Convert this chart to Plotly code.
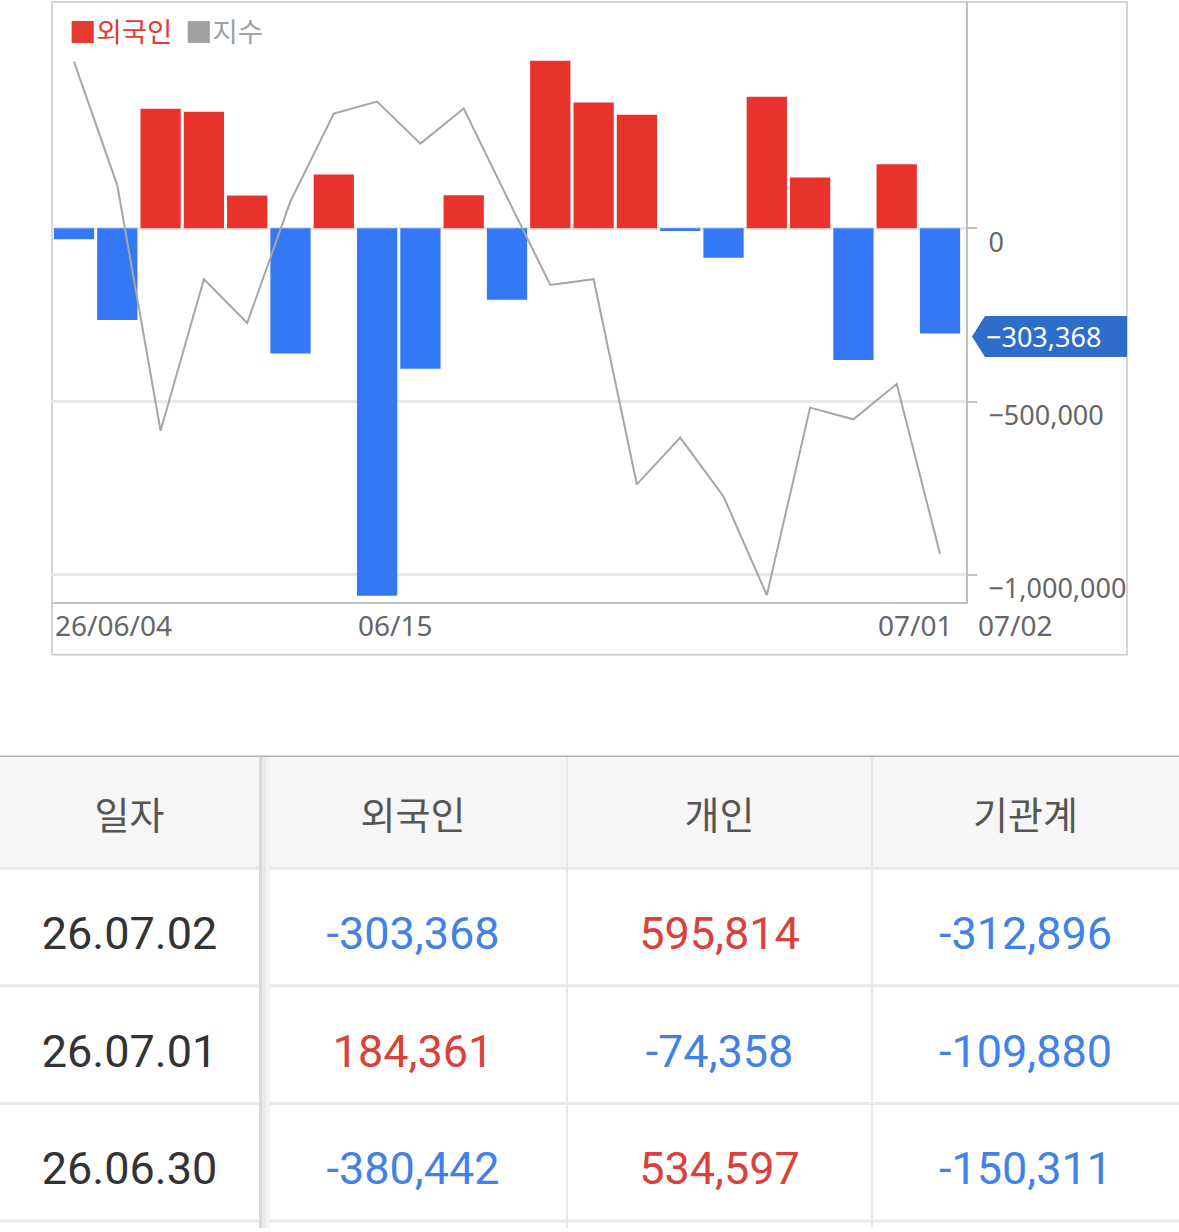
import plotly.graph_objects as go

W, H = 1179, 1232

# daily foreign net buying (bars) and the index (line)
dates = ['06/04', '06/05', '06/08', '06/09', '06/10', '06/11', '06/12', '06/15',
         '06/16', '06/17', '06/18', '06/19', '06/22', '06/23', '06/24', '06/25',
         '06/26', '06/29', '06/30', '07/01', '07/02']
foreign = [-31574, -264630, 345120, 336480, 94870, -361520, 155310, -1060420,
           -405480, 94910, -206170, 483240, 363190, 327880, -7810, -85430,
           379560, 146720, -380442, 184361, -303368]
index_vals = [2880.1, 2838.9, 2757.1, 2807.6, 2793.0, 2833.6, 2862.8, 2866.8,
              2852.8, 2864.5, 2834.9, 2805.7, 2807.6, 2739.2, 2754.8, 2735.2,
              2702.3, 2764.8, 2760.9, 2772.7, 2716.0]

y_ticks = [0, -500000, -1000000]
x_label_dates = ['06/04', '06/15', '07/01']
x_label_texts = ['26/06/04', '06/15', '07/01']
last_label = '07/02'

# table below the chart
table_header = ['일자', '외국인', '개인', '기관계']
table_dates = ['26.07.02', '26.07.01', '26.06.30']
table_foreign = [-303368, 184361, -380442]
table_individual = [595814, -74358, 534597]
table_institution = [-312896, -109880, -150311]

RED = '#e8332c'
BLUE = '#3578f6'
TXT_RED = '#d9413a'
TXT_BLUE = '#4281e8'
CHART_FONT = 'Noto Sans, Noto Sans CJK KR, sans-serif'
TABLE_FONT = 'Roboto, Noto Sans CJK KR, sans-serif'

# table geometry (pixels)
col_widths = [259, 308, 305, 307]
header_h = 113
row_h = 118
table_top = 758
table_h = H - table_top
header_dy = 8
cell_dy = 11


def px(x):
    return x / W


def py(y):
    return 1 - y / H


def num_color(v):
    return TXT_RED if v > 0 else TXT_BLUE


fig = go.Figure()

fig.add_trace(go.Bar(
    x=dates, y=foreign,
    marker=dict(color=[RED if v > 0 else BLUE for v in foreign], line=dict(width=0)),
    showlegend=False, hoverinfo='skip'
))
fig.add_trace(go.Scatter(
    x=dates, y=index_vals, yaxis='y2', mode='lines',
    line=dict(color='#a6a6a6', width=2),
    showlegend=False, hoverinfo='skip'
))

# table drawn on its own pixel-scaled subplot
col_edges = [0]
for w in col_widths:
    col_edges.append(col_edges[-1] + w)
col_centers = [(col_edges[i] + col_edges[i + 1]) / 2 for i in range(len(col_widths))]

fig.add_trace(go.Scatter(
    x=col_centers, y=[header_h / 2 + header_dy] * len(table_header), text=table_header,
    mode='text', textposition='middle center', xaxis='x3', yaxis='y3',
    textfont=dict(family=TABLE_FONT, size=38, color='#555555'),
    showlegend=False, hoverinfo='skip'
))

columns = [table_dates,
           [f'{v:,}' for v in table_foreign],
           [f'{v:,}' for v in table_individual],
           [f'{v:,}' for v in table_institution]]
colors = [['#333333'] * len(table_dates),
          [num_color(v) for v in table_foreign],
          [num_color(v) for v in table_individual],
          [num_color(v) for v in table_institution]]
cx, cy, ct, cc = [], [], [], []
for j, col in enumerate(columns):
    for i, val in enumerate(col):
        cx.append(col_centers[j])
        cy.append(header_h + row_h * (i + 0.5) + cell_dy)
        ct.append(val)
        cc.append(colors[j][i])
fig.add_trace(go.Scatter(
    x=cx, y=cy, text=ct, mode='text', textposition='middle center',
    xaxis='x3', yaxis='y3',
    textfont=dict(family=TABLE_FONT, size=45, color=cc),
    showlegend=False, hoverinfo='skip'
))

annotations = [
    dict(text='■외국인', x=px(67), y=py(32), xref='paper', yref='paper',
         xanchor='left', yanchor='middle', showarrow=False,
         font=dict(family=CHART_FONT, size=27.5, color='#e53a30')),
    dict(text='■지수', x=px(183), y=py(32), xref='paper', yref='paper',
         xanchor='left', yanchor='middle', showarrow=False,
         font=dict(family=CHART_FONT, size=27.5, color='#a0a0a0')),
]
for d, t in zip(x_label_dates, x_label_texts):
    annotations.append(dict(
        text=t, x=d, xref='x', xshift=-21, y=py(627), yref='paper',
        xanchor='left', yanchor='middle', showarrow=False,
        font=dict(family=CHART_FONT, size=28, color='#666666')))
annotations.append(dict(
    text=last_label, x=px(976), xref='paper', y=py(627), yref='paper',
    xanchor='left', yanchor='middle', showarrow=False,
    font=dict(family=CHART_FONT, size=28, color='#666666')))

# tag showing the latest value
last_val = foreign[-1]
annotations.append(dict(
    text=f'{last_val:,}'.replace('-', '−'), x=px(1043), xref='paper',
    y=last_val, yref='y', yshift=-3, xanchor='center', yanchor='middle',
    showarrow=False, font=dict(family=CHART_FONT, size=27, color='white')))

shapes = [
    dict(type='rect', xref='paper', yref='paper', x0=px(52), x1=px(1127),
         y0=py(657), y1=py(2), line=dict(color='#c8c8c8', width=1.5), layer='below'),
    dict(type='path', xref='paper', yref='y', xsizemode='pixel', ysizemode='pixel',
         xanchor=px(972), yanchor=last_val,
         path='M0,-3 L13,17.5 L155,17.5 L155,-23.5 L13,-23.5 Z',
         fillcolor='#2f6dcb', line=dict(width=0), layer='below'),
    # table header background
    dict(type='rect', xref='x3', yref='y3', x0=0, x1=W, y0=0, y1=header_h,
         fillcolor='#f6f6f6', line=dict(width=0), layer='below'),
]
for k in range(len(table_dates) + 1):
    yk = header_h + row_h * k
    shapes.append(dict(type='line', xref='x3', yref='y3', x0=0, x1=W, y0=yk, y1=yk,
                       line=dict(color='#e8e8e8', width=3), layer='below'))
for e in col_edges[2:-1]:
    shapes.append(dict(type='line', xref='x3', yref='y3', x0=e, x1=e, y0=0, y1=table_h,
                       line=dict(color='#e8e8e8', width=2), layer='below'))
# first column separator with a soft shadow
e1 = col_edges[1]
shapes += [
    dict(type='rect', xref='x3', yref='y3', x0=e1, x1=e1 + 3, y0=0, y1=table_h,
         fillcolor='#d9d9d9', line=dict(width=0), layer='below'),
    dict(type='rect', xref='x3', yref='y3', x0=e1 + 3, x1=e1 + 7, y0=0, y1=table_h,
         fillcolor='#e9e9e9', line=dict(width=0), layer='below'),
    dict(type='rect', xref='x3', yref='y3', x0=e1 + 7, x1=e1 + 11, y0=0, y1=table_h,
         fillcolor='#f3f3f3', line=dict(width=0), layer='below'),
    dict(type='line', xref='x3', yref='y3', x0=0, x1=W, y0=0, y1=0,
         line=dict(color='#b3b3b3', width=3), layer='below'),
]

fig.update_layout(
    width=W, height=H,
    margin=dict(l=0, r=0, t=0, b=0),
    paper_bgcolor='white', plot_bgcolor='white',
    bargap=0.07,
    xaxis=dict(
        type='category', domain=[px(52), px(966)], range=[-0.508, 20.6],
        showticklabels=False, showgrid=False, zeroline=False,
        showline=True, linecolor='#c0c0c0', linewidth=2, ticks=''
    ),
    yaxis=dict(
        domain=[py(604), py(2)], range=[-1078500, 652900], side='right',
        tickvals=y_ticks, tickformat=',d',
        showline=True, linecolor='#c0c0c0', linewidth=2,
        ticks='outside', ticklen=9, tickwidth=2, tickcolor='#c0c0c0',
        showgrid=True, gridcolor='#e8e8e8', gridwidth=3, zeroline=False,
        tickfont=dict(family=CHART_FONT, size=27, color='#666666'),
        ticklabelshift=14, ticklabelstandoff=6
    ),
    yaxis2=dict(
        overlaying='y', range=[2700, 2900], visible=False,
        showgrid=False, zeroline=False
    ),
    xaxis3=dict(domain=[0, 1], range=[0, W], visible=False, anchor='y3', fixedrange=True),
    yaxis3=dict(domain=[0, py(table_top)], range=[table_h, 0], visible=False,
                anchor='x3', fixedrange=True),
    annotations=annotations,
    shapes=shapes,
    showlegend=False
)

fig.write_html('out.html', config={'displayModeBar': False},
               post_script="document.body.style.margin='0';")
